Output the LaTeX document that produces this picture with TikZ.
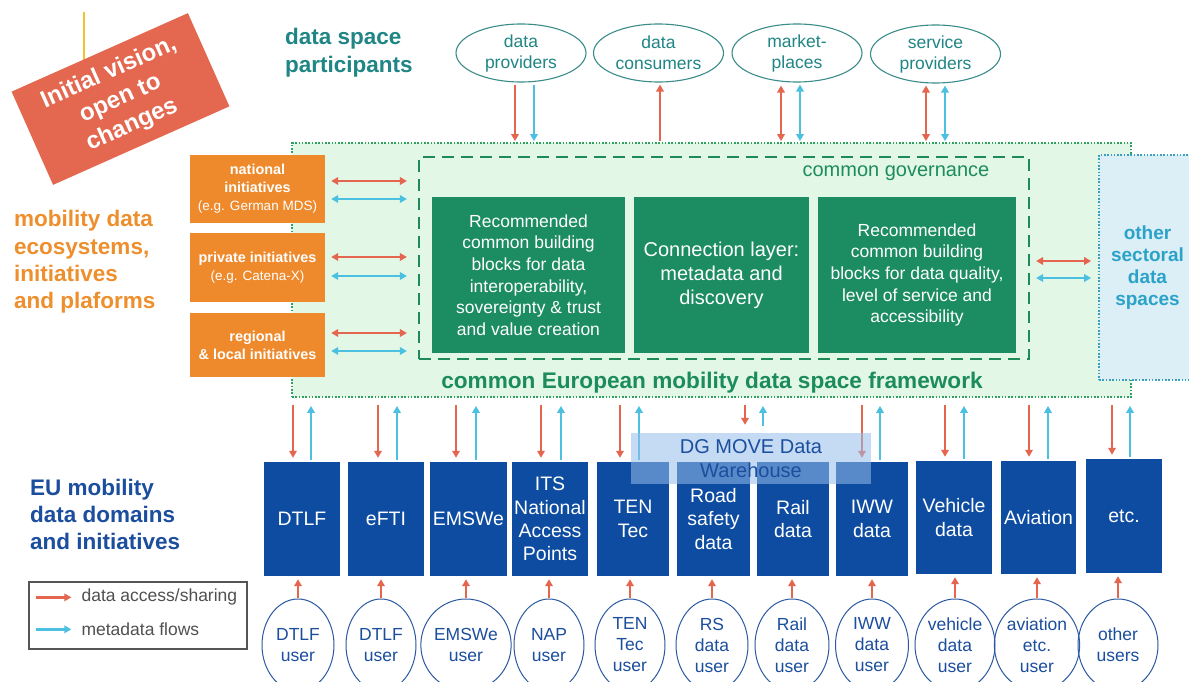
\documentclass[tikz,border=0pt]{standalone}
\usepackage{fontspec}
\setmainfont{Liberation Sans}
\usetikzlibrary{arrows.meta,shapes.geometric,calc}
\definecolor{arrred}{HTML}{E5664E}
\definecolor{arrblue}{HTML}{4CC0E0}
\definecolor{partteal}{HTML}{1F8585}
\definecolor{partline}{HTML}{3A8C8A}
\definecolor{redbox}{HTML}{E4674F}
\definecolor{yelline}{HTML}{F2C12E}
\definecolor{orfill}{HTML}{EE8A2C}
\definecolor{ortext}{HTML}{EE8F2E}
\definecolor{grfill}{HTML}{1C8C63}
\definecolor{govline}{HTML}{1E8A5A}
\definecolor{grtext}{HTML}{1C8C5C}
\definecolor{fwfill}{HTML}{E2F7E5}
\definecolor{fwline}{HTML}{2EA060}
\definecolor{othfill}{HTML}{DCEEF6}
\definecolor{othline}{HTML}{3A9FC0}
\definecolor{othtext}{HTML}{2BA3C9}
\definecolor{blfill}{HTML}{0D4CA1}
\definecolor{bltext}{HTML}{1C4E9E}
\definecolor{userline}{HTML}{2C5AA0}
\definecolor{dgfill}{HTML}{96BEEC}
\definecolor{legline}{HTML}{555555}
\definecolor{legtext}{HTML}{505050}
\newcommand\setfs[2]{\fontsize{#1pt}{#2pt}\selectfont}
\begin{document}
\begin{tikzpicture}[x=1pt,y=-1pt,
  ra/.style={draw=arrred,line width=2.3pt,-{Triangle[length=7pt,width=7.5pt]}},
  rab/.style={draw=arrred,line width=2.3pt,{Triangle[length=7pt,width=7.5pt]}-{Triangle[length=7pt,width=7.5pt]}},
  ba/.style={draw=arrblue,line width=2.3pt,-{Triangle[length=7pt,width=7.5pt]}},
  bab/.style={draw=arrblue,line width=2.3pt,{Triangle[length=7pt,width=7.5pt]}-{Triangle[length=7pt,width=7.5pt]}},
  part/.style={ellipse,draw=partline,line width=1.1pt,minimum width=130pt,minimum height=58pt,inner sep=0pt,align=center,text=partteal,font=\setfs{17.5}{21}},
  orbox/.style={rectangle,fill=orfill,minimum width=135pt,inner sep=0pt,align=center,text=white,font=\setfs{14.4}{18}\bfseries},
  grbox/.style={rectangle,fill=grfill,minimum height=156pt,inner sep=0pt,align=center,text=white,font=\setfs{17.5}{21.6}},
  blbox/.style={rectangle,fill=blfill,inner sep=0pt,align=center,text=white,font=\setfs{19.5}{23.3}},
  user/.style={ellipse,draw=userline,line width=1pt,inner sep=0pt,align=center,text=bltext,font=\setfs{17.5}{21},minimum height=92pt},
  title/.style={inner sep=0pt,align=left,anchor=west,font=\setfs{22.5}{27.3}\bfseries},
  dotbox/.style={line width=1.8pt,dash pattern=on 1.6pt off 1.7pt},
]
\useasboundingbox (0,0) rectangle (1189,682);
\clip (0,0) rectangle (1189,682);
\fill[white] (0,0) rectangle (1189,682);

% initial vision
\draw[yelline,line width=2pt] (84,12) -- (84,60);
\node[fill=redbox,rotate=24,minimum width=193pt,minimum height=102pt,inner sep=0pt,text=white,align=center,font=\setfs{24}{28.5}\bfseries] (vis) at (120.5,99) {Initial vision,\\open to\\changes};

% titles
\node[title,text=partteal] (tdsp) at (285,52.8) {data space\\participants};
\node[title,text=ortext] (tmob) at (14,262) {mobility data\\ecosystems,\\initiatives\\and plaforms};
\node[title,text=bltext,font=\setfs{22.5}{27}\bfseries] (teu) at (30,514) {EU mobility\\data domains\\and initiatives};

% participants
\node[part] (dp) at (521,53) {data\\providers};
\node[part] (dc) at (658.5,53) {data\\consumers};
\node[part] (mp) at (797,53) {market-\\places};
\node[part] (sp) at (935.5,54) {service\\providers};

% framework
\node[draw=fwline,fill=fwfill,dotbox,minimum width=839pt,minimum height=254pt,inner sep=0pt] (fw) at (711.5,270) {};
\node[draw=othline,fill=othfill,dotbox,minimum width=97pt,minimum height=225pt,inner sep=0pt,text=othtext,align=center,font=\setfs{19}{22}\bfseries] (oth) at (1147.5,267.5) {other\\sectoral\\data\\spaces};
\node[draw=govline,line width=2.2pt,dash pattern=on 12pt off 7pt,minimum width=610pt,minimum height=202pt,inner sep=0pt] (gov) at (724,258) {};
\node[inner sep=0pt,text=grtext,font=\setfs{20}{24}] (govl) at (896,173) {common governance};
\node[grbox,minimum width=193pt] (g1) at (528.5,275) {Recommended\\common building\\blocks for data\\interoperability,\\sovereignty \& trust\\and value creation};
\node[grbox,minimum width=175pt,font=\setfs{20}{24}] (g2) at (721.5,275) {Connection layer:\\metadata and\\discovery};
\node[grbox,minimum width=198pt] (g3) at (917,275) {Recommended\\common building\\blocks for data quality,\\level of service and\\accessibility};
\node[inner sep=0pt,text=grtext,font=\setfs{22.6}{26}\bfseries] (fwl) at (712,383) {common European mobility data space framework};

% orange initiatives
\node[orbox,minimum height=68pt] (nat) at (257.5,189) {national\\initiatives\\{\mdseries\setfs{13.5}{17}(e.g. German MDS)}};
\node[orbox,minimum height=69pt] (pri) at (257.5,267.5) {private initiatives\\{\mdseries\setfs{13.5}{17}(e.g. Catena-X)}};
\node[orbox,minimum height=64pt] (reg) at (257.5,345) {regional\\\& local initiatives};

% participant arrows
\draw[ra] ($(dp.south)+(-6,2)$) -- ($(dp.south |- fw.north)+(-6,-1)$);
\draw[ba] ($(dp.south)+(13,2)$) -- ($(dp.south |- fw.north)+(13,-1)$);
\draw[ra] ($(dc.south |- fw.north)+(1.5,-1)$) -- ($(dc.south)+(1.5,2)$);
\draw[rab] ($(mp.south)+(-16,3)$) -- ($(mp.south |- fw.north)+(-16,-1)$);
\draw[bab] ($(mp.south)+(3,2)$) -- ($(mp.south |- fw.north)+(3,-1)$);
\draw[rab] ($(sp.south)+(-9.5,2)$) -- ($(sp.south |- fw.north)+(-9.5,-1)$);
\draw[bab] ($(sp.south)+(9.5,2)$) -- ($(sp.south |- fw.north)+(9.5,-1)$);

% initiative arrows
\draw[rab] ($(nat.east)+(6,-8)$) -- ($(nat.east -| gov.west)+(-11,-8)$);
\draw[bab] ($(nat.east)+(6,10)$) -- ($(nat.east -| gov.west)+(-11,10)$);
\draw[rab] ($(pri.east)+(6,-10.5)$) -- ($(pri.east -| gov.west)+(-11,-10.5)$);
\draw[bab] ($(pri.east)+(6,8.5)$) -- ($(pri.east -| gov.west)+(-11,8.5)$);
\draw[rab] ($(reg.east)+(6,-12)$) -- ($(reg.east -| gov.west)+(-11,-12)$);
\draw[bab] ($(reg.east)+(6,6)$) -- ($(reg.east -| gov.west)+(-11,6)$);
\draw[rab] ($(gov.east)+(6,3)$) -- ($(gov.east -| oth.west)+(-7,3)$);
\draw[bab] ($(gov.east)+(6,20)$) -- ($(gov.east -| oth.west)+(-7,20)$);

% EU domain boxes
\node[blbox,minimum width=76pt,minimum height=114pt] (b1) at (302,519) {DTLF};
\node[blbox,minimum width=76pt,minimum height=114pt] (b2) at (386,519) {eFTI};
\node[blbox,minimum width=77pt,minimum height=114pt] (b3) at (468.5,519) {EMSWe};
\node[blbox,minimum width=76pt,minimum height=114pt] (b4) at (550,519) {ITS\\National\\Access\\Points};
\node[blbox,minimum width=72pt,minimum height=114pt] (b5) at (633,519) {TEN\\Tec};
\node[blbox,minimum width=73pt,minimum height=114pt] (b6) at (713.5,519) {Road\\safety\\data};
\node[blbox,minimum width=72pt,minimum height=114pt] (b7) at (793,519) {Rail\\data};
\node[blbox,minimum width=72pt,minimum height=114pt] (b8) at (872,519) {IWW\\data};
\node[blbox,minimum width=76pt,minimum height=113pt] (b9) at (954,517.5) {Vehicle\\data};
\node[blbox,minimum width=75pt,minimum height=113pt] (b10) at (1038.5,517.5) {Aviation};
\node[blbox,minimum width=76pt,minimum height=114pt] (b11) at (1124,516) {etc.};

\foreach \b/\r/\c in {b1/-9/9,b2/-8/11,b3/-12.5/7.5,b4/-9/11,b5/-13/6,b8/-10/8,b9/-9/10,b10/-9.5/9.5,b11/-12/6}{
  \draw[ra] ($(\b.north |- fw.south)+(\r,7)$) -- ($(\b.north)+(\r,-4)$);
  \draw[ba] ($(\b.north)+(\c,-2)$) -- ($(\b.north |- fw.south)+(\c,8)$);
}

% users
\node[user,minimum width=72pt] (u1) at (298,645) {DTLF\\user};
\node[user,minimum width=70pt] (u2) at (381,645) {DTLF\\user};
\node[user,minimum width=77pt] (u3) at (466,645) {EMSWe\\user};
\node[user,minimum width=70pt] (u4) at (549,645) {NAP\\user};
\node[user,minimum width=70pt] (u5) at (630,645) {TEN\\Tec\\user};
\node[user,minimum width=72pt] (u6) at (712,645) {RS\\data\\user};
\node[user,minimum width=74pt] (u7) at (792,645) {Rail\\data\\user};
\node[user,minimum width=73pt] (u8) at (872,645) {IWW\\data\\user};
\node[user,minimum width=80pt] (u9) at (955,645) {vehicle\\data\\user};
\node[user,minimum width=80pt] (u10) at (1037,645) {aviation\\etc.\\user};
\node[user,minimum width=80pt] (u11) at (1118,645) {other\\users};

\foreach \u/\b in {u1/b1,u2/b2,u3/b3,u4/b4,u5/b5,u6/b6,u7/b7,u8/b8,u9/b9,u10/b10,u11/b11}{
  \draw[ra] ($(\u.north)+(0,-1)$) -- ($(\u.north |- \b.south)+(0,3)$);
}

% DG MOVE data warehouse
\node[fill=dgfill,fill opacity=0.55,text opacity=1,minimum width=240pt,minimum height=51pt,inner sep=0pt,text=bltext,align=center,font=\setfs{20}{24}] (dg) at (751,458.5) {DG MOVE Data\\Warehouse};
\draw[ra] ($(dg.north |- fw.south)+(-6,7)$) -- ($(dg.north)+(-6,-8)$);
\draw[ba] ($(dg.north)+(12,-7)$) -- ($(dg.north |- fw.south)+(12,8)$);

% legend
\node[draw=legline,line width=1.3pt,minimum width=218pt,minimum height=67pt,inner sep=0pt] (leg) at (138,615.5) {};
\coordinate (l1) at ($(leg.north west)+(8,16)$);
\coordinate (l2) at ($(leg.north west)+(8,48)$);
\draw[ra] (l1) -- ++(35,0);
\draw[ba] (l2) -- ++(35,0);
\node[anchor=west,inner sep=0pt,text=legtext,font=\setfs{17.5}{20}] (lt1) at ($(l1)+(45,0)$) {data access/sharing};
\node[anchor=west,inner sep=0pt,text=legtext,font=\setfs{17.5}{20}] (lt2) at ($(l2)+(45,0)$) {metadata flows};
\end{tikzpicture}
\end{document}
